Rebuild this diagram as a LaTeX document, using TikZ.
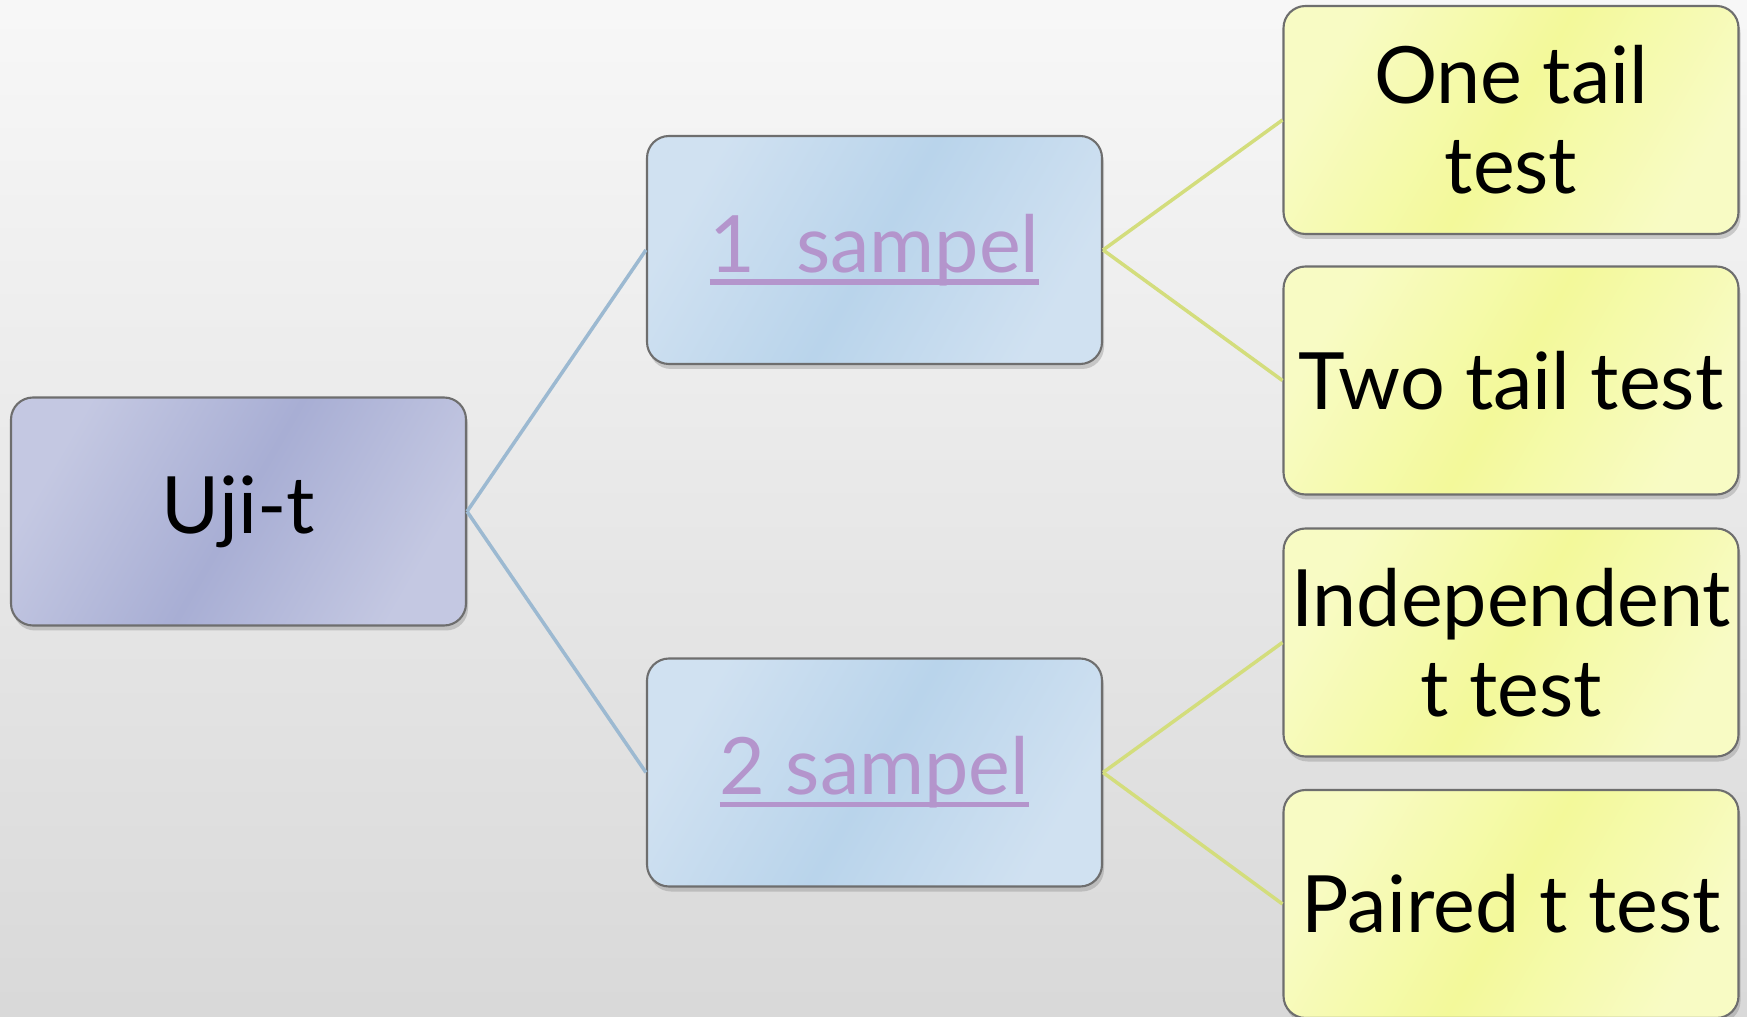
\documentclass[tikz,border=0pt]{standalone}
\usepackage{fontspec}
\setmainfont{Lato}
\usepackage{tikz}
\usetikzlibrary{positioning,shadows}

\definecolor{rootfill}{HTML}{A8AED4}
\definecolor{rootlight}{HTML}{C4C8E2}
\definecolor{samplefill}{HTML}{B9D4EB}
\definecolor{samplelight}{HTML}{D0E1F1}
\definecolor{testfill}{HTML}{F3F99A}
\definecolor{testlight}{HTML}{F8FBC4}
\definecolor{linkblue}{HTML}{9CB9D1}
\definecolor{linkgreen}{HTML}{D3DD7C}
\definecolor{linktext}{HTML}{B495CC}
\definecolor{boxedge}{HTML}{6E6E6E}

\newlength\linkwd
\newcommand\linkword[1]{\settowidth\linkwd{#1}\rlap{\rule[-0.16em]{\linkwd}{0.07em}}#1}

\begin{document}
\begin{tikzpicture}[
box/.style={rectangle, rounded corners=0.22cm, draw=boxedge, line width=0.6pt, minimum width=4.55cm, minimum height=2.28cm, align=center, inner sep=0pt, font=\fontsize{22.5}{25.5}\selectfont, drop shadow={opacity=0.35, shadow xshift=0.02cm, shadow yshift=-0.05cm}},
root/.style={box, left color=rootlight, right color=rootlight, middle color=rootfill, shading angle=60},
sample/.style={box, left color=samplelight, right color=samplelight, middle color=samplefill, shading angle=60, text=linktext},
test/.style={box, left color=testlight, right color=testlight, middle color=testfill, shading angle=60},
edge/.style={line width=1pt},
]
% background
\shade[top color=white!97!black, bottom color=white!85!black] (0,0) rectangle (17.47,10.16);
\useasboundingbox (0,0) rectangle (17.47,10.16);

\node[root]   (uji)   at (2.385,5.045) {Uji-t};
\node[sample] (one)   at (8.745,7.66)  {\linkword{1\ \ sampel}};
\node[sample] (two)   at (8.745,2.435) {\linkword{2 sampel}};
\node[test]   (onet)  at (15.11,8.96)  {One tail\\test};
\node[test]   (twot)  at (15.11,6.355) {Two tail test};
\node[test]   (indt)  at (15.11,3.735) {Independent\\t test};
\node[test]   (pairt) at (15.11,1.12)  {Paired t test};

\draw[edge, linkblue] (uji.east) -- (one.west);
\draw[edge, linkblue] (uji.east) -- (two.west);

\draw[edge, linkgreen] (one.east) -- (onet.west);
\draw[edge, linkgreen] (one.east) -- (twot.west);
\draw[edge, linkgreen] (two.east) -- (indt.west);
\draw[edge, linkgreen] (two.east) -- (pairt.west);
\end{tikzpicture}
\end{document}
